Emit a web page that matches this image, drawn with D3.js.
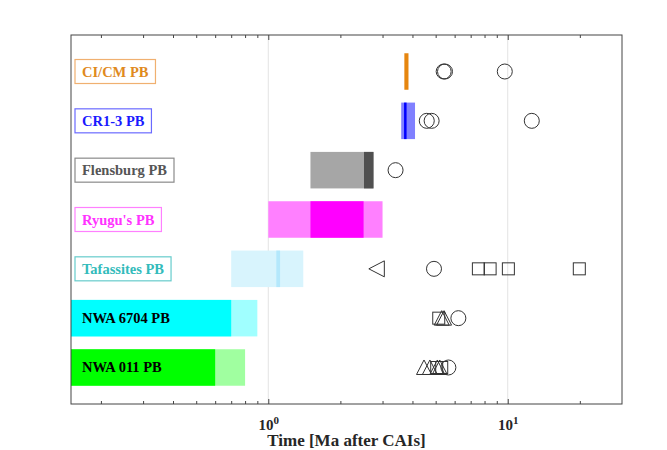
<!DOCTYPE html>
<html>
<head>
<meta charset="utf-8">
<script src="https://cdn.jsdelivr.net/npm/d3@7"></script>
<style>
  body { margin: 0; background: #fff; }
  text { font-family: "Liberation Serif", "Times New Roman", serif; font-weight: bold; }
</style>
</head>
<body>
<div id="chart"></div>
<script>
// parent bodies, top to bottom
const rows = ["CI/CM PB", "CR1-3 PB", "Flensburg PB", "Ryugu's PB", "Tafassites PB", "NWA 6704 PB", "NWA 011 PB"];

// accretion age ranges [Ma after CAIs]: wide (light) range and core (dark) range
const wideStart = [null, 3.59, 1.50, 1.00, 0.70, 0.10, 0.10];
const wideEnd   = [null, 4.10, 2.75, 3.00, 1.40, 0.90, 0.80];
const coreStart = [3.70, 3.69, 2.51, 1.50, 1.08, 0.10, 0.10];
const coreEnd   = [3.85, 3.78, 2.75, 2.50, 1.12, 0.70, 0.60];

// alteration / metamorphism ages
const circles = [
  ["CI/CM PB", 5.40], ["CI/CM PB", 5.47], ["CI/CM PB", 9.72],
  ["CR1-3 PB", 4.59], ["CR1-3 PB", 4.81], ["CR1-3 PB", 12.6],
  ["Flensburg PB", 3.40],
  ["Tafassites PB", 4.92],
  ["NWA 6704 PB", 6.22],
  ["NWA 011 PB", 5.65]
];
const squares = [
  ["Tafassites PB", 7.54], ["Tafassites PB", 8.44], ["Tafassites PB", 10.06], ["Tafassites PB", 19.9],
  ["NWA 6704 PB", 5.15],
  ["NWA 011 PB", 5.05], ["NWA 011 PB", 5.30]
];
const triangles = [
  ["NWA 6704 PB", 5.30], ["NWA 6704 PB", 5.42],
  ["NWA 011 PB", 4.47], ["NWA 011 PB", 4.73], ["NWA 011 PB", 5.08], ["NWA 011 PB", 5.20]
];
const leftTriangles = [["Tafassites PB", 2.84]];

const majorTicks = [1, 10];
const minorTicks = [0.2, 0.3, 0.4, 0.5, 0.6, 0.7, 0.8, 0.9, 2, 3, 4, 5, 6, 7, 8, 9, 20];

// styles
const wideColor = ["none", "#8080ff", "#a6a6a6", "#ff80ff", "#d8f4fd", "#a0ffff", "#a0ffa0"];
const coreColor = ["#e6860f", "#0000ff", "#505050", "#ff00ff", "#b4e8fc", "#00ffff", "#00ff00"];
const labelText = ["#e08a1e", "#1a1aff", "#555555", "#ff33ff", "#33bbbb", "#000", "#000"];
const labelBox  = ["#f0b070", "#6a6aff", "#8a8a8a", "#ff80ff", "#66cccc", null, null];

const W = 667, H = 450;
const margin = { top: 35, right: 45, bottom: 46, left: 71 };
const width = W - margin.left - margin.right,
      height = H - margin.top - margin.bottom;

const svg = d3.select("#chart").append("svg")
  .attr("width", W).attr("height", H);

svg.append("defs").append("clipPath").attr("id", "clip")
  .append("rect").attr("width", width).attr("height", height);

const g = svg.append("g").attr("transform", `translate(${margin.left},${margin.top})`);

const x = d3.scaleLog().domain([0.15, 30]).range([0, width]);
const y = d3.scaleLinear().domain([-0.74, rows.length - 0.26]).range([0, height]);
const rowY = name => y(rows.indexOf(name));
const barH = y(0.37) - y(-0.37);

// grid lines at decades
g.selectAll(".grid").data(majorTicks).enter().append("line")
  .attr("x1", d => x(d)).attr("x2", d => x(d))
  .attr("y1", 0).attr("y2", height)
  .attr("stroke", "#e3e3e3").attr("stroke-width", 1);

const bars = g.append("g").attr("clip-path", "url(#clip)");

bars.selectAll(".wide").data(rows.map((r, i) => i).filter(i => wideStart[i] != null))
  .enter().append("rect")
  .attr("x", i => x(wideStart[i]))
  .attr("width", i => x(wideEnd[i]) - x(wideStart[i]))
  .attr("y", i => y(i) - barH / 2)
  .attr("height", barH)
  .attr("fill", i => wideColor[i]);

bars.selectAll(".core").data(rows.map((r, i) => i))
  .enter().append("rect")
  .attr("x", i => x(coreStart[i]))
  .attr("width", i => x(coreEnd[i]) - x(coreStart[i]))
  .attr("y", i => y(i) - barH / 2)
  .attr("height", barH)
  .attr("fill", i => coreColor[i]);

// markers
const mk = g.append("g").attr("fill", "none").attr("stroke", "#333").attr("stroke-width", 1);

mk.selectAll(".c").data(circles).enter().append("circle")
  .attr("cx", d => x(d[1])).attr("cy", d => rowY(d[0])).attr("r", 7.5);

mk.selectAll(".s").data(squares).enter().append("rect")
  .attr("x", d => x(d[1]) - 6).attr("y", d => rowY(d[0]) - 6)
  .attr("width", 12).attr("height", 12);

mk.selectAll(".t").data(triangles).enter().append("path")
  .attr("d", d => {
    const cx = x(d[1]), cy = rowY(d[0]);
    return `M${cx},${cy - 7.5}L${cx + 7.5},${cy + 7}L${cx - 7.5},${cy + 7}Z`;
  });

mk.selectAll(".lt").data(leftTriangles).enter().append("path")
  .attr("d", d => {
    const cx = x(d[1]), cy = rowY(d[0]);
    return `M${cx - 8},${cy}L${cx + 7.5},${cy - 8}L${cx + 7.5},${cy + 8}Z`;
  });

// labels
rows.forEach((name, i) => {
  const lg = g.append("g").attr("transform", `translate(4,${y(i)})`);
  const t = lg.append("text")
    .attr("x", 7).attr("y", 5)
    .attr("font-size", 14.5)
    .attr("fill", labelText[i])
    .text(name);
  if (labelBox[i]) {
    const w = t.node().getComputedTextLength();
    lg.insert("rect", "text")
      .attr("x", 0).attr("y", -12)
      .attr("width", w + 14).attr("height", 24)
      .attr("fill", "#fff")
      .attr("stroke", labelBox[i]).attr("stroke-width", 1.2);
  }
});

// axes
g.append("g").attr("transform", `translate(0,${height})`)
  .call(d3.axisBottom(x).tickValues(minorTicks).tickSize(-3).tickFormat(""))
  .call(a => a.select(".domain").remove());
g.append("g")
  .call(d3.axisTop(x).tickValues(minorTicks).tickSize(-3).tickFormat(""))
  .call(a => a.select(".domain").remove());
g.append("g")
  .call(d3.axisTop(x).tickValues(majorTicks).tickSize(-5).tickFormat(""))
  .call(a => a.select(".domain").remove());

const xAxis = g.append("g").attr("transform", `translate(0,${height})`)
  .call(d3.axisBottom(x).tickValues(majorTicks).tickSize(-5).tickPadding(20).tickFormat(""));
xAxis.select(".domain").remove();
xAxis.selectAll(".tick").append("text")
  .attr("y", 26).attr("text-anchor", "middle").attr("fill", "#262626")
  .attr("font-size", 15)
  .call(t => t.append("tspan").text("10"))
  .call(t => t.append("tspan").attr("dy", -6).attr("font-size", 11).text(d => Math.round(Math.log10(d))));

g.selectAll(".tick line").attr("stroke", "#444");

g.append("rect")
  .attr("width", width).attr("height", height)
  .attr("fill", "none").attr("stroke", "#444").attr("stroke-width", 1);

g.append("text")
  .attr("x", width / 2).attr("y", height + 42)
  .attr("text-anchor", "middle")
  .attr("font-size", 17).attr("fill", "#262626")
  .text("Time [Ma after CAIs]");
</script>
</body>
</html>
